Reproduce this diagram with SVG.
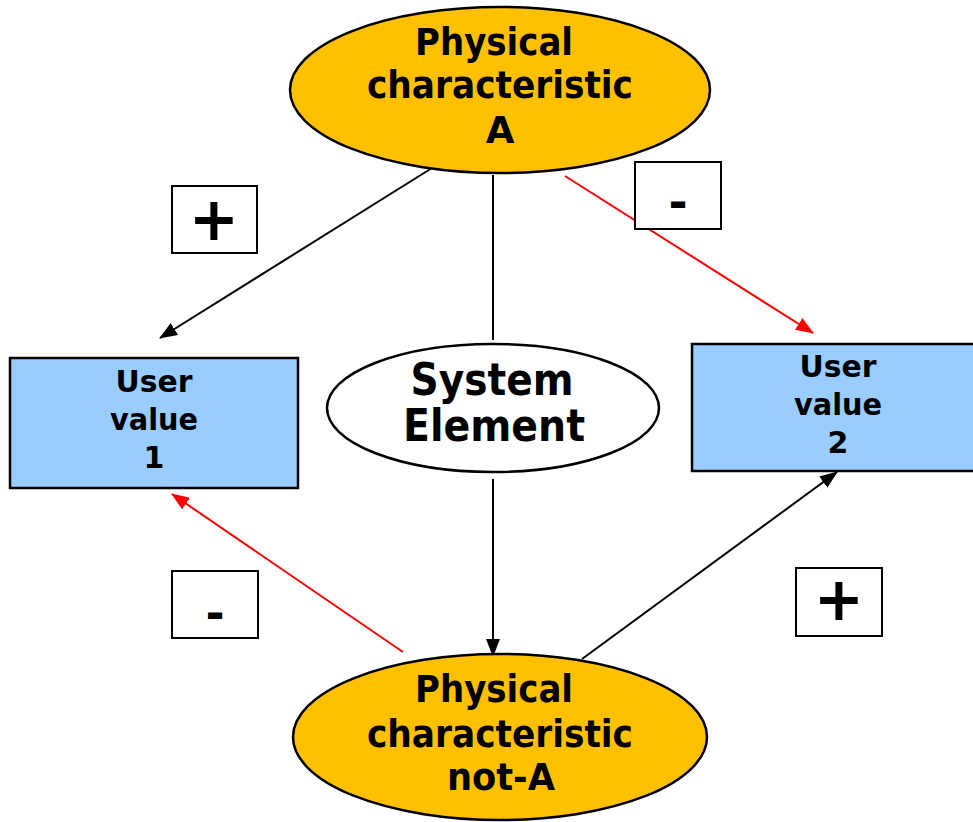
<svg xmlns="http://www.w3.org/2000/svg" width="973" height="822" viewBox="0 0 973 822">
<style>
.ell{stroke:#000;stroke-width:2.5}
.or{fill:#FFC000}
.wh{fill:#fff}
.box{fill:#99CCFF;stroke:#000;stroke-width:2.5}
.sign{fill:#fff;stroke:#000;stroke-width:2}
text{font-family:"DejaVu Sans","Liberation Sans",sans-serif;font-weight:bold;fill:#000;text-anchor:middle}
.big{font-size:37px}
.mid{font-size:44px}
.sm{font-size:30px}
.pl{font-size:60px}
.mn{font-size:46px}
.blk{stroke:#000;stroke-width:2;fill:none}
.red{stroke:#f00;stroke-width:2;fill:none}
</style>
<defs>
<marker id="ab" markerUnits="userSpaceOnUse" markerWidth="18" markerHeight="14" refX="17" refY="7" orient="auto"><path d="M0,0 L18,7 L0,14 Z" fill="#000"/></marker>
<marker id="ar" markerUnits="userSpaceOnUse" markerWidth="18" markerHeight="14" refX="17" refY="7" orient="auto"><path d="M0,0 L18,7 L0,14 Z" fill="#f00"/></marker>
</defs>
<g id="connectors">
<line class="blk" x1="432" y1="168" x2="160" y2="338" marker-end="url(#ab)"/>
<line class="blk" x1="493" y1="175" x2="493" y2="340"/>
<line class="red" x1="565" y1="176" x2="813" y2="333" marker-end="url(#ar)"/>
<line class="blk" x1="493" y1="479" x2="493" y2="656" marker-end="url(#ab)"/>
<line class="red" x1="403" y1="652" x2="172" y2="494" marker-end="url(#ar)"/>
<line class="blk" x1="582" y1="659" x2="837" y2="472" marker-end="url(#ab)"/>
</g>
<g id="physA">
<ellipse class="ell or" cx="500" cy="90" rx="210" ry="83"/>
<text class="big" x="494" y="55" textLength="158" lengthAdjust="spacingAndGlyphs">Physical</text>
<text class="big" x="500" y="98" textLength="266" lengthAdjust="spacingAndGlyphs">characteristic</text>
<text class="big" x="500" y="143">A</text>
</g>
<g id="system">
<ellipse class="ell wh" cx="493" cy="408" rx="166" ry="64"/>
<text class="mid" x="492" y="395" textLength="163" lengthAdjust="spacingAndGlyphs">System</text>
<text class="mid" x="494" y="441" textLength="182" lengthAdjust="spacingAndGlyphs">Element</text>
</g>
<g id="physNotA">
<ellipse class="ell or" cx="500" cy="737" rx="207" ry="83"/>
<text class="big" x="494" y="702" textLength="158" lengthAdjust="spacingAndGlyphs">Physical</text>
<text class="big" x="500" y="747" textLength="266" lengthAdjust="spacingAndGlyphs">characteristic</text>
<text class="big" x="501" y="790" textLength="108" lengthAdjust="spacingAndGlyphs">not-A</text>
</g>
<g id="uv1">
<rect class="box" x="10" y="358" width="288" height="130"/>
<text class="sm" x="154" y="392" textLength="77" lengthAdjust="spacingAndGlyphs">User</text>
<text class="sm" x="154" y="430" textLength="88" lengthAdjust="spacingAndGlyphs">value</text>
<text class="sm" x="154" y="468">1</text>
</g>
<g id="uv2">
<rect class="box" x="692" y="344" width="285" height="127"/>
<text class="sm" x="838" y="377" textLength="77" lengthAdjust="spacingAndGlyphs">User</text>
<text class="sm" x="838" y="415" textLength="88" lengthAdjust="spacingAndGlyphs">value</text>
<text class="sm" x="838" y="453">2</text>
</g>
<g id="sign1">
<rect class="sign" x="172" y="186" width="85" height="67"/>
<text class="pl" x="214" y="240">+</text>
</g>
<g id="sign2">
<rect class="sign" x="635" y="162" width="86" height="67"/>
<text class="mn" x="678" y="218">-</text>
</g>
<g id="sign3">
<rect class="sign" x="172" y="571" width="86" height="67"/>
<text class="mn" x="215" y="629">-</text>
</g>
<g id="sign4">
<rect class="sign" x="796" y="568" width="86" height="68"/>
<text class="pl" x="839" y="620">+</text>
</g>
</svg>
